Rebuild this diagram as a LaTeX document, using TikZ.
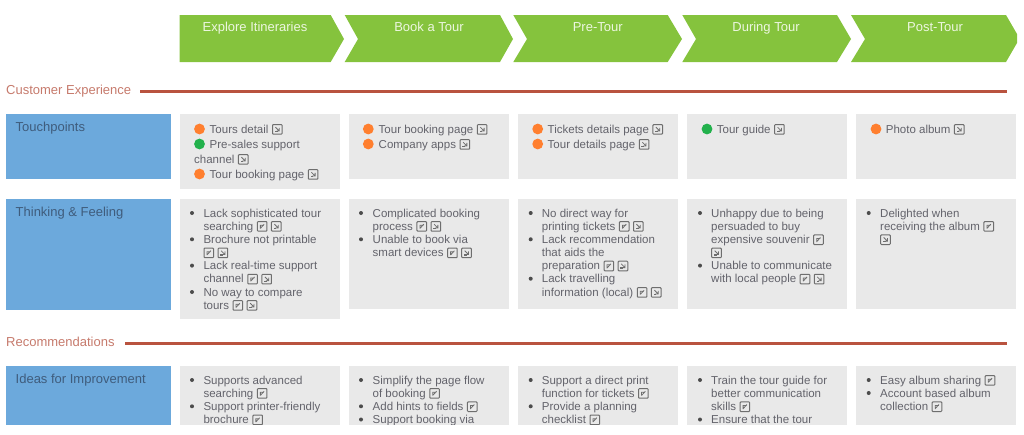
\documentclass[tikz,border=0pt]{standalone}
\usepackage{fontspec}
\setmainfont{Liberation Sans}
\definecolor{hdgreen}{HTML}{85C33D}
\definecolor{hdtext}{HTML}{EDF6E0}
\definecolor{cellgray}{HTML}{E9E9E9}
\definecolor{rowblue}{HTML}{6CA9DC}
\definecolor{rowtext}{HTML}{3F5C7C}
\definecolor{rulered}{HTML}{B9533F}
\definecolor{labelred}{HTML}{C67A6C}
\definecolor{bodytext}{HTML}{63636B}
\definecolor{dotorange}{HTML}{FF7F2F}
\definecolor{dotgreen}{HTML}{22B14C}
\definecolor{icongray}{HTML}{6E6E6E}
\newcounter{itemno}
\tikzset{
  stage/.style={fill=hdgreen,draw=none},
  stagetext/.style={text=hdtext,inner sep=0pt,anchor=base,font=\fontsize{13}{15}\selectfont},
  cell/.style={fill=cellgray,draw=none},
  rowbox/.style={fill=rowblue,draw=none},
  rowlabel/.style={text=rowtext,inner sep=0pt,anchor=base west,font=\fontsize{13}{15}\selectfont},
  seclabel/.style={text=labelred,inner sep=0pt,anchor=base west,font=\fontsize{13}{15}\selectfont},
  secrule/.style={draw=rulered,line width=3pt},
  txt/.style={text=bodytext,inner sep=0pt,anchor=base west,font=\fontsize{11.5}{13}\selectfont},
  bigdot/.style={circle,inner sep=0pt,minimum size=10.8pt,draw=none},
  smalldot/.style={circle,inner sep=0pt,minimum size=4pt,fill=black!70,draw=none}
}
\newcommand\rawA{\tikz[baseline=1.2pt,x=1pt,y=1pt]{\draw[icongray,line width=1pt,rounded corners=0.8pt] (0,0) rectangle (9.6,9.6);\draw[icongray,line width=0.8pt] (3,2.5)--(3,6)--(6.6,6)(3.2,3)--(6.8,7);}}
\newcommand\rawB{\tikz[baseline=1.2pt,x=1pt,y=1pt]{\draw[icongray,line width=1pt,rounded corners=0.8pt] (0,0) rectangle (9.6,9.6);\fill[icongray] (2.2,2.2) rectangle (5,3.4);\draw[icongray,line width=0.8pt] (3,7)--(6.8,3.2)(6.8,6.4)--(6.8,3.2)--(4,3.2);}}
\newcommand\icA{\hspace{3.5pt}\rawA}
\newcommand\icB{\hspace{3.5pt}\rawB}
\newcommand\txtline[3]{\stepcounter{itemno}\node[txt] (t\arabic{itemno}) at (#1,#2+4) {#3};}
\newcommand\bul[2]{\stepcounter{itemno}\node[smalldot] (b\arabic{itemno}) at (#1,#2) {};}
\newcommand\dotitem[5]{\stepcounter{itemno}\node[bigdot,fill=#1] (d\arabic{itemno}) at (#2,#4) {};\txtline{#3}{#4}{#5}}
\begin{document}
\begin{tikzpicture}[x=1pt,y=-1pt]
\useasboundingbox (0,0) rectangle (1024,434);
% stages
\fill[stage] (179.7,15)--(330.7,15)--(344,39)--(330.7,62)--(179.7,62)--cycle;
\fill[stage] (344.7,15)--(500,15)--(513,39)--(500,62)--(344.7,62)--(358,39)--cycle;
\fill[stage] (513.3,15)--(667.7,15)--(682,39)--(667.7,62)--(513.3,62)--(527,39)--cycle;
\fill[stage] (682.3,15)--(837,15)--(851,39)--(837,62)--(682.3,62)--(696,39)--cycle;
\fill[stage] (851,15)--(1006,15)--(1017,34)--(1017,43)--(1006,62)--(851,62)--(865,39)--cycle;
\node[stagetext] (s1) at (255,31) {Explore Itineraries};
\node[stagetext] (s2) at (429,31) {Book a Tour};
\node[stagetext] (s3) at (597.7,31) {Pre-Tour};
\node[stagetext] (s4) at (766,31) {During Tour};
\node[stagetext] (s5) at (935,31) {Post-Tour};
% sections
\node[seclabel] (sec1) at (6,94.5) {Customer Experience};
\draw[secrule] (140,91.7)--(1007,91.7);
\node[seclabel] (sec2) at (6,346.5) {Recommendations};
\draw[secrule] (125,343.7)--(1007,343.7);
% row headers
\fill[rowbox] (6,114)rectangle(170.5,179.3);
\fill[rowbox] (6,199)rectangle(170.5,309.5);
\fill[rowbox] (6,366)rectangle(170.5,424.7);
\node[rowlabel] (r1) at (15.5,131.5) {Touchpoints};
\node[rowlabel] (r2) at (15.5,216.5) {Thinking \& Feeling};
\node[rowlabel] (r3) at (15.5,383.5) {Ideas for Improvement};
% cells
\fill[cell] (180,114.3)rectangle(339.7,188.7);
\fill[cell] (349.3,114.3)rectangle(508.7,179.3);
\fill[cell] (518.3,114.3)rectangle(677.7,179.3);
\fill[cell] (687.3,114.3)rectangle(847,179.3);
\fill[cell] (856.3,114.3)rectangle(1016,179.3);
\fill[cell] (180,199)rectangle(339.7,319);
\fill[cell] (349.3,199)rectangle(508.7,309.3);
\fill[cell] (518.3,199)rectangle(677.7,309.3);
\fill[cell] (687.3,199)rectangle(847,309.3);
\fill[cell] (856.3,199)rectangle(1016,309.3);
\fill[cell] (180,366)rectangle(339.7,424.7);
\fill[cell] (349.3,366)rectangle(508.7,424.7);
\fill[cell] (518.3,366)rectangle(677.7,424.7);
\fill[cell] (687.3,366)rectangle(847,424.7);
\fill[cell] (856.3,366)rectangle(1016,424.7);
% touchpoints
\dotitem{dotorange}{199.5}{209.5}{129}{Tours detail\icB}
\dotitem{dotgreen}{199.5}{209.5}{144}{Pre-sales support}
\txtline{194}{159}{channel\icB}
\dotitem{dotorange}{199.5}{209.5}{174}{Tour booking page\icB}
\dotitem{dotorange}{368.3}{378.5}{129}{Tour booking page\icB}
\dotitem{dotorange}{368.3}{378.5}{144}{Company apps\icB}
\dotitem{dotorange}{537.7}{547.5}{129}{Tickets details page\icB}
\dotitem{dotorange}{537.7}{547.5}{144}{Tour details page\icB}
\dotitem{dotgreen}{707}{716.7}{129}{Tour guide\icB}
\dotitem{dotorange}{876}{885.7}{129}{Photo album\icB}
% thinking and feeling
\bul{192}{213}\txtline{203.3}{213}{Lack sophisticated tour}
\txtline{203.3}{226}{searching\icA\icB}
\bul{192}{239.3}\txtline{203.3}{239.3}{Brochure not printable}
\txtline{203.3}{252.5}{\rawA\icB}
\bul{192}{265.6}\txtline{203.3}{265.6}{Lack real-time support}
\txtline{203.3}{278.7}{channel\icA\icB}
\bul{192}{292}\txtline{203.3}{292}{No way to compare}
\txtline{203.3}{305}{tours\icA\icB}
\bul{361}{213}\txtline{372.5}{213}{Complicated booking}
\txtline{372.5}{226}{process\icA\icB}
\bul{361}{239.3}\txtline{372.5}{239.3}{Unable to book via}
\txtline{372.5}{252.5}{smart devices\icA\icB}
\bul{530.7}{213}\txtline{541.7}{213}{No direct way for}
\txtline{541.7}{226}{printing tickets\icA\icB}
\bul{530.7}{239.3}\txtline{541.7}{239.3}{Lack recommendation}
\txtline{541.7}{252.5}{that aids the}
\txtline{541.7}{265.6}{preparation\icA\icB}
\bul{530.7}{278.7}\txtline{541.7}{278.7}{Lack travelling}
\txtline{541.7}{292}{information (local)\icA\icB}
\bul{700}{213}\txtline{711}{213}{Unhappy due to being}
\txtline{711}{226}{persuaded to buy}
\txtline{711}{239.3}{expensive souvenir\icA}
\txtline{711}{252.5}{\rawB}
\bul{700}{265.6}\txtline{711}{265.6}{Unable to communicate}
\txtline{711}{278.7}{with local people\icA\icB}
\bul{868.7}{213}\txtline{880}{213}{Delighted when}
\txtline{880}{226}{receiving the album\icA}
\txtline{880}{239.3}{\rawB}
% ideas
\begin{scope}
\clip (0,360) rectangle (1024,424.7);
\bul{192}{380}\txtline{203.3}{380}{Supports advanced}
\txtline{203.3}{393}{searching\icA}
\bul{192}{406.3}\txtline{203.3}{406.3}{Support printer-friendly}
\txtline{203.3}{419.5}{brochure\icA}
\bul{361}{380}\txtline{372.5}{380}{Simplify the page flow}
\txtline{372.5}{393}{of booking\icA}
\bul{361}{406.3}\txtline{372.5}{406.3}{Add hints to fields\icA}
\bul{361}{419.5}\txtline{372.5}{419.5}{Support booking via}
\bul{530.7}{380}\txtline{541.7}{380}{Support a direct print}
\txtline{541.7}{393}{function for tickets\icA}
\bul{530.7}{406.3}\txtline{541.7}{406.3}{Provide a planning}
\txtline{541.7}{419.5}{checklist\icA}
\bul{700}{380}\txtline{711}{380}{Train the tour guide for}
\txtline{711}{393}{better communication}
\txtline{711}{406.3}{skills\icA}
\bul{700}{419.5}\txtline{711}{419.5}{Ensure that the tour}
\bul{868.7}{380}\txtline{880}{380}{Easy album sharing\icA}
\bul{868.7}{393}\txtline{880}{393}{Account based album}
\txtline{880}{406.3}{collection\icA}
\end{scope}
\end{tikzpicture}
\end{document}
